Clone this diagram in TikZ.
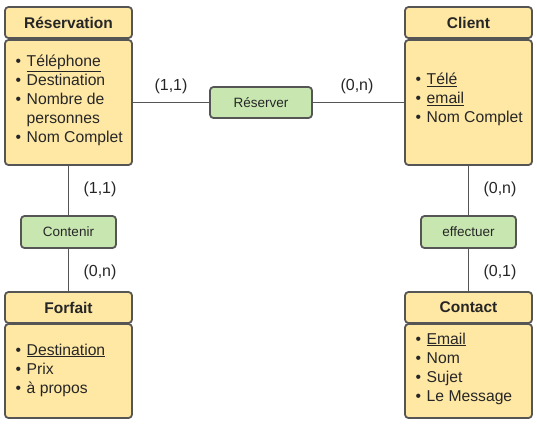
\documentclass[tikz,border=0pt]{standalone}
\usepackage{fontspec}
\setmainfont{Liberation Sans}
\definecolor{entfill}{HTML}{FFE8A4}
\definecolor{relfill}{HTML}{C8E7B0}
\definecolor{edge}{HTML}{555555}
\definecolor{txt}{HTML}{262626}
\newcommand{\bul}{\makebox[11pt][l]{•}}
\tikzset{
  ent/.style={draw=edge, fill=entfill, line width=1.8pt, rounded corners=3.5pt, minimum width=127pt, inner sep=0pt},
  enthead/.style={ent, minimum height=31pt, font=\fontsize{15.5}{19}\selectfont\bfseries, text=txt},
  rel/.style={draw=edge, fill=relfill, line width=1.8pt, rounded corners=3.5pt, minimum height=31pt, inner sep=0pt, font=\fontsize{13.5}{16}\selectfont, text=txt},
  attrs/.style={anchor=west, inner sep=0pt, align=left, font=\fontsize{15.7}{19}\selectfont, text=txt},
  card/.style={inner sep=0pt, font=\fontsize{16}{19}\selectfont, text=txt},
  link/.style={draw=edge, line width=1.5pt}
}
\begin{document}
\begin{tikzpicture}[x=1pt,y=-1pt]
\useasboundingbox (0,0) rectangle (537,424);
% entities
\node[enthead] (resH) at (68.5,22.5) {Réservation};
\node[ent, minimum height=125pt] (resB) at (68.5,102.5) {};
\node[attrs] (resA) at (15.5,100) {\bul\underline{Téléphone}\\\bul Destination\\\bul Nombre de\\\hspace*{11pt}personnes\\\bul Nom Complet};
\node[enthead] (cliH) at (468.5,22.5) {Client};
\node[ent, minimum height=125pt] (cliB) at (468.5,102.5) {};
\node[attrs] (cliA) at (415.5,99) {\bul\underline{Télé}\\\bul\underline{email}\\\bul Nom Complet};
\node[enthead] (forH) at (68.5,307.5) {Forfait};
\node[ent, minimum height=94pt] (forB) at (68.5,371) {};
\node[attrs] (forA) at (15.5,370) {\bul\underline{Destination}\\\bul Prix\\\bul à propos};
\node[enthead] (conH) at (468.5,307.5) {Contact};
\node[ent, minimum height=94pt] (conB) at (468.5,371) {};
\node[attrs] (conA) at (415.5,368.5) {\bul\underline{Email}\\\bul Nom\\\bul Sujet\\\bul Le Message};
% relations
\node[rel, minimum width=102pt] (reserver) at (261,102.5) {Réserver};
\node[rel, minimum width=95pt, minimum height=32pt] (contenir) at (68.5,232) {Contenir};
\node[rel, minimum width=95pt, minimum height=32pt] (effectuer) at (468.5,232) {effectuer};
% links
\draw[link] (resB.east) -- (reserver.west);
\draw[link] (reserver.east) -- (cliB.west);
\draw[link] (resB.south) -- (contenir.north);
\draw[link] (contenir.south) -- (forH.north);
\draw[link] (cliB.south) -- (effectuer.north);
\draw[link] (effectuer.south) -- (conH.north);
% cardinalities
\node[card] (c1) at (171,86) {(1,1)};
\node[card] (c2) at (357,86) {(0,n)};
\node[card] (c3) at (100,189) {(1,1)};
\node[card] (c4) at (100,272) {(0,n)};
\node[card] (c5) at (500,189) {(0,n)};
\node[card] (c6) at (500,272) {(0,1)};
\end{tikzpicture}
\end{document}
